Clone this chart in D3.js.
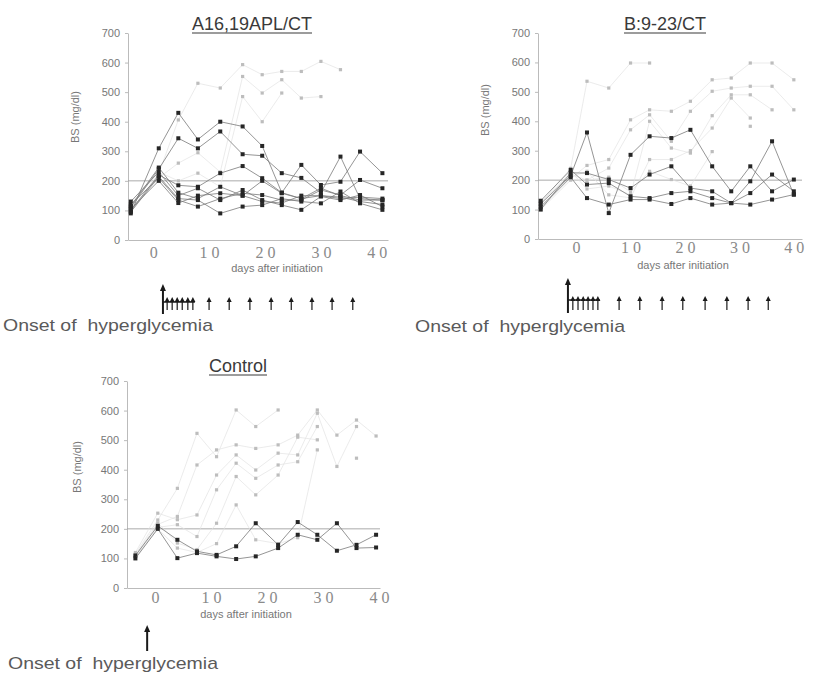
<!DOCTYPE html>
<html lang="en">
<head>
<meta charset="utf-8">
<title>BS after initiation</title>
<script src="https://cdn.jsdelivr.net/npm/d3@7"></script>
<style>
  body { margin: 0; background: #fff; }
  svg { display: block; font-family: "Liberation Sans", Arial, sans-serif; }
  .y-axis text { font-size: 11px; fill: #777; }
  .y-axis line, .y-axis path, .x-axis path { stroke: #bbb; stroke-width: 1; }
  .x-axis text { font-family: "Liberation Serif", "DejaVu Serif", serif; font-size: 16px; fill: #8a8a8a; }
  .title { font-size: 18px; fill: #3a3a3a; }
  .ylab, .xlab { font-size: 11px; fill: #777; }
  .onset { font-size: 17px; fill: #5a5a5a; white-space: pre; }
</style>
</head>
<body>
<svg id="fig" width="815" height="674"></svg>
<script>
// sampling days for each group
var daysA = [-4, 1, 4.5, 8, 12, 16, 19.5, 23, 26.5, 30, 33.5, 37, 41];
var daysB = [-6.5, -1, 2, 6, 10, 13.5, 17.5, 21, 25, 28.5, 32, 36, 40];
var daysC = [-3.5, 0.5, 4, 7.5, 11, 14.5, 18, 22, 25.5, 29, 32.5, 36, 39.5];

// BS (mg/dl), mice that stayed normoglycemic (black) and diabetic ones (grey)
var blackA = [
  [90, 310, 430, 340, 400, 384, 318, 160, 140, 150, 145, 130, 120],
  [110, 240, 344, 310, 367, 290, 285, 226, 210, 160, 282, 140, 135],
  [100, 220, 185, 180, 226, 250, 209, 160, 254, 186, 197, 299, 226],
  [120, 210, 135, 113, 140, 158, 152, 135, 135, 169, 152, 203, 175],
  [130, 230, 150, 175, 135, 169, 135, 118, 102, 147, 135, 152, 113],
  [95, 215, 140, 135, 90, 113, 118, 140, 130, 124, 164, 124, 102],
  [105, 200, 125, 150, 158, 150, 200, 158, 140, 175, 150, 135, 135],
  [115, 245, 160, 140, 180, 150, 130, 125, 150, 150, 140, 145, 140]
];
var greyA = [
  [100, 225, 406, 530, 514, 593, 559, 570, 570, 604, 576, null, null],
  [95, 210, 260, 295, 230, 553, 497, 542, 480, 485, null, null, null],
  [120, 230, 200, 226, 180, 485, 400, 497, null, null, null, null, null]
];

var blackB = [
  [120, 215, 362, 88, 286, 349, 343, 371, 247, 162, 247, 162, 202],
  [100, 225, 224, 202, 173, 219, 247, 173, 162, 122, 196, 332, 151],
  [130, 235, 185, 190, 145, 139, 156, 162, 139, 122, 156, 219, 162],
  [110, 210, 139, 117, 134, 134, 119, 139, 117, 122, 117, 134, 151]
];
var greyB = [
  [120, 240, 536, 513, 598, 598, null, null, null, null, null, null, null],
  [105, 205, 250, 270, 405, 439, 434, 468, 541, 547, 598, 598, 541],
  [125, 220, 200, 241, 371, 422, 332, 434, 502, 513, 519, 519, 439],
  [115, 230, 170, 180, 150, 400, 309, 292, 419, 490, 490, 439, null],
  [110, 210, 230, 150, 140, 270, 270, 300, 377, 479, 411, null, null],
  [100, 200, 200, 210, 160, 230, 202, 180, 297, null, 383, null, null]
];

var blackC = [
  [110, 210, 163, 124, 112, 141, 219, 146, 223, 180, 126, 146, 180],
  [100, 200, 101, 118, 107, 98, 107, 135, 180, 163, 219, 135, 137]
];
var greyC = [
  [115, 230, 337, 523, 444, 602, 546, 602, null, null, null, null, null],
  [105, 215, 242, 416, 467, 484, 472, 484, 517, 602, 517, 568, 514],
  [120, 253, 231, 247, 382, 450, 399, 456, 450, 591, 411, 546, null],
  [100, 205, 214, 174, 332, 422, 371, 416, 427, 546, null, 439, null],
  [110, 220, 152, 130, 219, 377, 315, 382, 510, 501, null, null, null],
  [105, 200, 135, 120, 150, 281, 163, 150, 170, 467, null, null, null]
];

var yTicks = [0, 100, 200, 300, 400, 500, 600, 700];
var xTicks = [0, 10, 20, 30, 40];
var xTickLabels = ["0", "1 0", "2 0", "3 0", "4 0"];

// treatment schedule (days): onset, daily doses, then twice weekly
var onsetA = 1.75, dailyA = [2.5, 3.4, 4.3, 5.2, 6.2, 7.1], weeklyA = [10, 13.6, 17.3, 21.1, 24.7, 28.4, 32, 35.7];
var onsetB = -1.5, dailyB = [-0.6, 0.35, 1.3, 2.2, 3.1, 4.0], weeklyB = [7.9, 11.7, 15.8, 19.6, 23.7, 27.7, 31.6, 35.3];
var onsetC = -1.4;

var svg = d3.select("#fig");

function drawPanel(p) {
  var x = d3.scaleLinear().domain(p.xdom).range(p.xr);
  var y = d3.scaleLinear().domain([0, 700]).range(p.yr);
  var g = svg.append("g");

  g.append("g").attr("class", "y-axis")
      .attr("transform", "translate(" + p.xr[0] + ",0)")
      .call(d3.axisLeft(y).tickValues(yTicks).tickSize(3).tickSizeOuter(0).tickPadding(5));

  g.append("g").attr("class", "x-axis")
      .attr("transform", "translate(0," + p.yr[0] + ")")
      .call(d3.axisBottom(x).tickValues(xTicks).tickSize(0).tickSizeOuter(0).tickPadding(p.tickPad)
        .tickFormat(function(d, i) { return xTickLabels[i]; }));

  g.append("line")
      .attr("x1", p.xr[0]).attr("x2", p.xr[1])
      .attr("y1", y(200)).attr("y2", y(200))
      .attr("stroke", "#a0a0a0").attr("stroke-width", 0.9);

  var line = d3.line()
      .defined(function(d) { return d[1] != null; })
      .x(function(d) { return x(d[0]); })
      .y(function(d) { return y(d[1]); });

  function pairs(vals) { return vals.map(function(v, i) { return [p.days[i], v]; }); }

  p.grey.forEach(function(s) {
    var pts = pairs(s);
    g.append("path").attr("d", line(pts)).attr("fill", "none")
        .attr("stroke", "#e2e2e2").attr("stroke-width", 0.7);
    g.selectAll(null).data(pts.filter(function(d) { return d[1] != null; }))
      .enter().append("rect")
        .attr("x", function(d) { return x(d[0]) - 1.6; })
        .attr("y", function(d) { return y(d[1]) - 1.6; })
        .attr("width", 3.2).attr("height", 3.2)
        .attr("fill", "#bdbdbd");
  });

  p.black.forEach(function(s) {
    var pts = pairs(s);
    g.append("path").attr("d", line(pts)).attr("fill", "none")
        .attr("stroke", "#7a7a7a").attr("stroke-width", 0.8);
    g.selectAll(null).data(pts)
      .enter().append("rect")
        .attr("x", function(d) { return x(d[0]) - 2; })
        .attr("y", function(d) { return y(d[1]) - 2; })
        .attr("width", 4).attr("height", 4)
        .attr("fill", "#262626");
  });

  // title with underline
  var t = g.append("text").attr("class", "title")
      .attr("x", p.titleX).attr("y", p.titleY)
      .attr("text-anchor", "middle").text(p.title);
  var bb = t.node().getBBox();
  g.append("line").attr("x1", bb.x).attr("x2", bb.x + bb.width)
      .attr("y1", p.titleY + 3).attr("y2", p.titleY + 3)
      .attr("stroke", "#3a3a3a").attr("stroke-width", 1.2);

  g.append("text").attr("class", "ylab")
      .attr("transform", "translate(" + p.ylabX + "," + p.ylabY + ") rotate(-90)")
      .attr("text-anchor", "middle").attr("dy", "0.35em").text("BS (mg/dl)");

  g.append("text").attr("class", "xlab")
      .attr("x", p.xlabX).attr("y", p.xlabY)
      .attr("text-anchor", "middle").text("days after initiation");

  // onset arrow and treatment arrows
  function arrow(d, top, bottom, w, h, sw) {
    var ax = x(d);
    g.append("line").attr("x1", ax).attr("x2", ax).attr("y1", top + h - 1).attr("y2", bottom)
        .attr("stroke", "#1a1a1a").attr("stroke-width", sw);
    g.append("path")
        .attr("d", "M" + ax + "," + top + "L" + (ax - w / 2) + "," + (top + h) + "L" + (ax + w / 2) + "," + (top + h) + "Z")
        .attr("fill", "#1a1a1a");
  }
  var a = p.arrows;
  arrow(p.onset, a.bigTop, a.bigBottom, 6, 7, 2);
  if (p.daily.length) {
    g.append("line").attr("x1", x(p.onset)).attr("x2", x(p.daily[p.daily.length - 1]) + 2)
        .attr("y1", a.hLine).attr("y2", a.hLine)
        .attr("stroke", "#1a1a1a").attr("stroke-width", 1.4);
  }
  p.daily.concat(p.weekly).forEach(function(d) {
    arrow(d, a.smallTop, a.smallBottom, 5, 5, 1.2);
  });

  g.append("text").attr("class", "onset")
      .attr("x", p.onsetTextX).attr("y", p.onsetTextY)
      .attr("textLength", 210).attr("lengthAdjust", "spacingAndGlyphs")
      .text("Onset of  hyperglycemia");
}

drawPanel({
  days: daysA, black: blackA, grey: greyA,
  xdom: [-4.5, 42], xr: [128, 388], yr: [240, 33], tickPad: 7,
  title: "A16,19APL/CT", titleX: 252, titleY: 30,
  ylabX: 75, ylabY: 117, xlabX: 277, xlabY: 272,
  onset: onsetA, daily: dailyA, weekly: weeklyA,
  arrows: { bigTop: 284, bigBottom: 314, hLine: 302, smallTop: 297, smallBottom: 310 },
  onsetTextX: 3, onsetTextY: 331
});

drawPanel({
  days: daysB, black: blackB, grey: greyB,
  xdom: [-7, 41.5], xr: [538, 802], yr: [239, 33], tickPad: 3,
  title: "B:9-23/CT", titleX: 665, titleY: 30,
  ylabX: 485, ylabY: 110, xlabX: 683, xlabY: 269,
  onset: onsetB, daily: dailyB, weekly: weeklyB,
  arrows: { bigTop: 278, bigBottom: 313, hLine: 300, smallTop: 296, smallBottom: 310 },
  onsetTextX: 415, onsetTextY: 332
});

drawPanel({
  days: daysC, black: blackC, grey: greyC,
  xdom: [-5, 40.2], xr: [127, 380], yr: [588, 381], tickPad: 4,
  title: "Control", titleX: 238, titleY: 372,
  ylabX: 77, ylabY: 467, xlabX: 246, xlabY: 618,
  onset: onsetC, daily: [], weekly: [],
  arrows: { bigTop: 625, bigBottom: 651, hLine: 0, smallTop: 0, smallBottom: 0 },
  onsetTextX: 8, onsetTextY: 669
});
</script>
</body>
</html>
